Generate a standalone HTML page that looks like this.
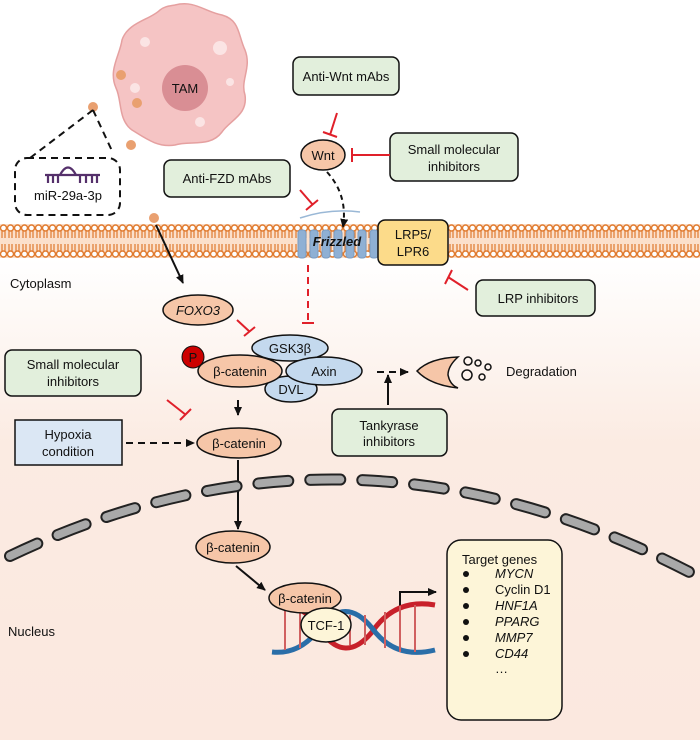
<!DOCTYPE html>
<html><head><style>
body{margin:0;width:700px;height:740px;overflow:hidden;background:#fff}
svg{display:block}
text{font-family:"Liberation Sans",sans-serif;font-size:13px;fill:#111}
</style></head><body>
<svg width="700" height="740" viewBox="0 0 700 740">
<defs>
<linearGradient id="bg" x1="0" y1="0" x2="0" y2="1">
<stop offset="0" stop-color="#fff"/><stop offset="0.35" stop-color="#fff"/><stop offset="0.6" stop-color="#fbebe2"/><stop offset="1" stop-color="#fbe8df"/>
</linearGradient>
<pattern id="mem" x="0" y="224" width="7" height="34" patternUnits="userSpaceOnUse">
<rect width="7" height="34" fill="#fbe0cc"/>
<circle cx="3.5" cy="4" r="3" fill="#fff" stroke="#e07a2e" stroke-width="1.4"/>
<circle cx="3.5" cy="30" r="3" fill="#fff" stroke="#e07a2e" stroke-width="1.4"/>
<path d="M2 7 L2 14 M5 7 L5 14 M2 20 L2 27 M5 20 L5 27" stroke="#e07a2e" stroke-width="1.2"/>
</pattern>
<marker id="ah" markerUnits="userSpaceOnUse" markerWidth="10" markerHeight="10" refX="8" refY="4" orient="auto"><path d="M0 0 L9 4 L0 8 z" fill="#111"/></marker>
</defs>
<rect width="700" height="740" fill="url(#bg)"/>
<rect x="0" y="224" width="700" height="34" fill="url(#mem)"/>

<!-- TAM -->
<path d="M175 5 C195 0 205 12 222 15 C240 20 238 35 245 50 C252 68 240 80 245 95 C248 115 230 120 222 132 C210 148 190 140 175 145 C158 148 145 138 132 130 C118 120 122 100 116 88 C108 70 120 55 122 40 C128 22 150 20 160 10 C165 6 170 6 175 5z" fill="#f5c4c4" stroke="#e5a0a0" stroke-width="1.5"/>
<circle cx="185" cy="88" r="23" fill="#d98e94"/>
<text x="185" y="93" text-anchor="middle" font-size="14">TAM</text>
<circle cx="145" cy="42" r="5" fill="#fbe4e4"/><circle cx="220" cy="48" r="7" fill="#fbe4e4"/><circle cx="135" cy="88" r="5" fill="#fbe4e4"/><circle cx="200" cy="122" r="5" fill="#fbe4e4"/><circle cx="230" cy="82" r="4" fill="#fbe4e4"/>
<g fill="#e9a070"><circle cx="121" cy="75" r="5"/><circle cx="137" cy="103" r="5"/><circle cx="131" cy="145" r="5"/><circle cx="93" cy="107" r="5"/><circle cx="154" cy="218" r="5"/></g>

<!-- miR box -->
<path d="M93 110 L30 158 M93 110 L113 153" stroke="#111" stroke-width="2" stroke-dasharray="7,5" fill="none"/>
<rect x="15" y="158" width="105" height="57" rx="12" fill="none" stroke="#111" stroke-width="2" stroke-dasharray="7,5"/>
<path d="M45 175 H100 M60 175 Q68 160 76 175 M48 175v8 M53 175v8 M58 175v8 M80 175v8 M86 175v8 M92 175v8 M97 175v8" stroke="#55306b" stroke-width="2.2" fill="none"/>
<text x="68" y="200" text-anchor="middle" font-size="12">miR-29a-3p</text>

<!-- boxes -->
<g fill="#e2efdc" stroke="#111" stroke-width="1.5">
<rect x="293" y="57" width="106" height="38" rx="7"/>
<rect x="390" y="133" width="128" height="48" rx="7"/>
<rect x="164" y="160" width="126" height="37" rx="7"/>
<rect x="476" y="280" width="119" height="36" rx="7"/>
<rect x="5" y="350" width="136" height="46" rx="7"/>
<rect x="332" y="409" width="115" height="47" rx="7"/>
</g>
<text x="346" y="81" text-anchor="middle">Anti-Wnt mAbs</text>
<text x="454" y="154" text-anchor="middle">Small molecular</text>
<text x="454" y="171" text-anchor="middle">inhibitors</text>
<text x="227" y="183" text-anchor="middle">Anti-FZD mAbs</text>
<text x="538" y="303" text-anchor="middle">LRP inhibitors</text>
<text x="73" y="369" text-anchor="middle">Small molecular</text>
<text x="73" y="386" text-anchor="middle">inhibitors</text>
<text x="389" y="430" text-anchor="middle">Tankyrase</text>
<text x="389" y="446" text-anchor="middle">inhibitors</text>
<rect x="15" y="420" width="107" height="45" fill="#dbe7f4" stroke="#111" stroke-width="1.5"/>
<text x="68" y="439" text-anchor="middle">Hypoxia</text>
<text x="68" y="456" text-anchor="middle">condition</text>

<!-- red inhibitors -->
<g stroke="#e0202a" stroke-width="2" fill="none">
<path d="M337 113 L330 135 M323 132 L337 137"/>
<path d="M390 155 L352 155 M352 148 V162"/>
<path d="M300 190 L313 205 M306 210 L318 200"/>
<path d="M468 290 L448 277 M445 284 L452 270"/>
<path d="M237 320 L250 332 M244 336 L255 327"/>
<path d="M308 265 V323" stroke-dasharray="7,5"/><path d="M302 323 H314"/>
<path d="M167 400 L186 415 M180 420 L191 409"/>
</g>

<!-- Wnt -->
<ellipse cx="323" cy="155" rx="22" ry="15" fill="#f6c6a8" stroke="#111" stroke-width="1.5"/>
<text x="323" y="160" text-anchor="middle">Wnt</text>
<path d="M327 172 Q348 195 343 227" stroke="#111" stroke-width="2" stroke-dasharray="5,4" fill="none" marker-end="url(#ah)"/>

<!-- Frizzled -->
<path d="M300 218 Q330 208 360 212" stroke="#9ab8d6" stroke-width="1.5" fill="none"/>
<g fill="#8fb0d4" stroke="#7a9cc2" stroke-width="1">
<rect x="298" y="230" width="8" height="28" rx="3"/><rect x="310" y="230" width="8" height="28" rx="3"/><rect x="322" y="230" width="8" height="28" rx="3"/><rect x="334" y="230" width="8" height="28" rx="3"/><rect x="346" y="230" width="8" height="28" rx="3"/><rect x="358" y="230" width="8" height="28" rx="3"/><rect x="370" y="230" width="8" height="28" rx="3"/>
</g>
<text x="337" y="246" text-anchor="middle" font-weight="bold" font-style="italic" font-size="12">Frizzled</text>
<rect x="378" y="220" width="70" height="45" rx="7" fill="#fcdb8a" stroke="#111" stroke-width="1.5"/>
<text x="413" y="239" text-anchor="middle" font-size="14">LRP5/</text>
<text x="413" y="256" text-anchor="middle" font-size="14">LPR6</text>

<text x="10" y="288" font-size="13">Cytoplasm</text>
<text x="8" y="636" font-size="13">Nucleus</text>

<!-- arrows -->
<g stroke="#111" stroke-width="2" fill="none">
<path d="M156 225 L183 283" marker-end="url(#ah)"/>
<path d="M238 400 V415" marker-end="url(#ah)"/>
<path d="M126 443 H194" stroke-dasharray="7,5" marker-end="url(#ah)"/>
<path d="M377 372 H408" stroke-dasharray="7,5" marker-end="url(#ah)"/>
<path d="M388 405 V375" marker-end="url(#ah)"/>
<path d="M238 460 V529" marker-end="url(#ah)"/>
<path d="M236 566 L265 590" marker-end="url(#ah)"/>
<path d="M400 612 V592 H436" marker-end="url(#ah)"/>
</g>

<!-- ellipses -->
<ellipse cx="198" cy="310" rx="35" ry="15" fill="#f6c6a8" stroke="#111" stroke-width="1.5"/>
<text x="198" y="315" text-anchor="middle" font-style="italic" font-size="12">FOXO3</text>
<ellipse cx="290" cy="348" rx="38" ry="13" fill="#c4d9ee" stroke="#111" stroke-width="1.5"/>
<text x="290" y="353" text-anchor="middle">GSK3β</text>
<ellipse cx="291" cy="389" rx="26" ry="13" fill="#c4d9ee" stroke="#111" stroke-width="1.5"/>
<text x="291" y="394" text-anchor="middle">DVL</text>
<ellipse cx="240" cy="371" rx="42" ry="16" fill="#f6c6a8" stroke="#111" stroke-width="1.5"/>
<text x="240" y="376" text-anchor="middle">β-catenin</text>
<ellipse cx="324" cy="371" rx="38" ry="14" fill="#c4d9ee" stroke="#111" stroke-width="1.5"/>
<text x="324" y="376" text-anchor="middle">Axin</text>
<circle cx="193" cy="357" r="11" fill="#c00" stroke="#111" stroke-width="1"/>
<text x="193" y="362" text-anchor="middle" font-size="13">P</text>
<ellipse cx="239" cy="443" rx="42" ry="15" fill="#f6c6a8" stroke="#111" stroke-width="1.5"/>
<text x="239" y="448" text-anchor="middle">β-catenin</text>

<!-- degradation -->
<path d="M417 371 Q430 358 458 357 Q448 366 448 375 Q450 385 458 388 Q430 385 417 371z" fill="#f6c6a8" stroke="#111" stroke-width="1.5"/>
<g fill="none" stroke="#111" stroke-width="1.5"><circle cx="468" cy="361" r="4"/><circle cx="478" cy="363" r="3"/><circle cx="488" cy="367" r="3"/><circle cx="467" cy="375" r="5"/><circle cx="482" cy="377" r="3"/></g>
<text x="506" y="376" font-size="14">Degradation</text>

<!-- nuclear envelope -->
<path d="M10 556 Q350 394 695 575" stroke="#222" stroke-width="12" stroke-dasharray="30,22" stroke-linecap="round" fill="none"/>
<path d="M10 556 Q350 394 695 575" stroke="#a9a9a9" stroke-width="8" stroke-dasharray="30,22" stroke-linecap="round" fill="none"/>

<ellipse cx="233" cy="547" rx="37" ry="16" fill="#f6c6a8" stroke="#111" stroke-width="1.5"/>
<text x="233" y="552" text-anchor="middle" font-size="12">β-catenin</text>

<!-- DNA -->
<g fill="none" stroke-width="5">
<path d="M272 602 Q300 600 320 630 Q345 665 372 632 Q395 598 435 605" stroke="#c8202a"/>
<path d="M272 652 Q300 655 320 628 Q345 595 372 628 Q395 660 435 650" stroke="#2a6ea8"/>
</g>
<g stroke="#d06060" stroke-width="2"><path d="M285 605 V650 M300 610 V648 M350 615 V645 M365 615 V645 M385 612 V648 M400 606 V652 M415 605 V652"/></g>
<ellipse cx="305" cy="598" rx="36" ry="15" fill="#f6c6a8" stroke="#111" stroke-width="1.5"/>
<text x="305" y="603" text-anchor="middle" font-size="12">β-catenin</text>
<ellipse cx="326" cy="625" rx="25" ry="17" fill="#fdf5d8" stroke="#111" stroke-width="1.5"/>
<text x="326" y="630" text-anchor="middle" font-size="12">TCF-1</text>

<!-- target genes -->
<rect x="447" y="540" width="115" height="180" rx="14" fill="#fdf5d8" stroke="#111" stroke-width="1.5"/>
<g>
<text x="462" y="564" font-size="11">Target genes</text>
<g fill="#111"><circle cx="466" cy="574" r="3"/><circle cx="466" cy="590" r="3"/><circle cx="466" cy="606" r="3"/><circle cx="466" cy="622" r="3"/><circle cx="466" cy="638" r="3"/><circle cx="466" cy="654" r="3"/></g>
<text x="495" y="578" font-size="11" font-style="italic">MYCN</text>
<text x="495" y="594" font-size="11">Cyclin D1</text>
<text x="495" y="610" font-size="11" font-style="italic">HNF1A</text>
<text x="495" y="626" font-size="11" font-style="italic">PPARG</text>
<text x="495" y="642" font-size="11" font-style="italic">MMP7</text>
<text x="495" y="658" font-size="11" font-style="italic">CD44</text>
<text x="495" y="673" font-size="11">…</text>
</g>
</svg>
</body></html>
